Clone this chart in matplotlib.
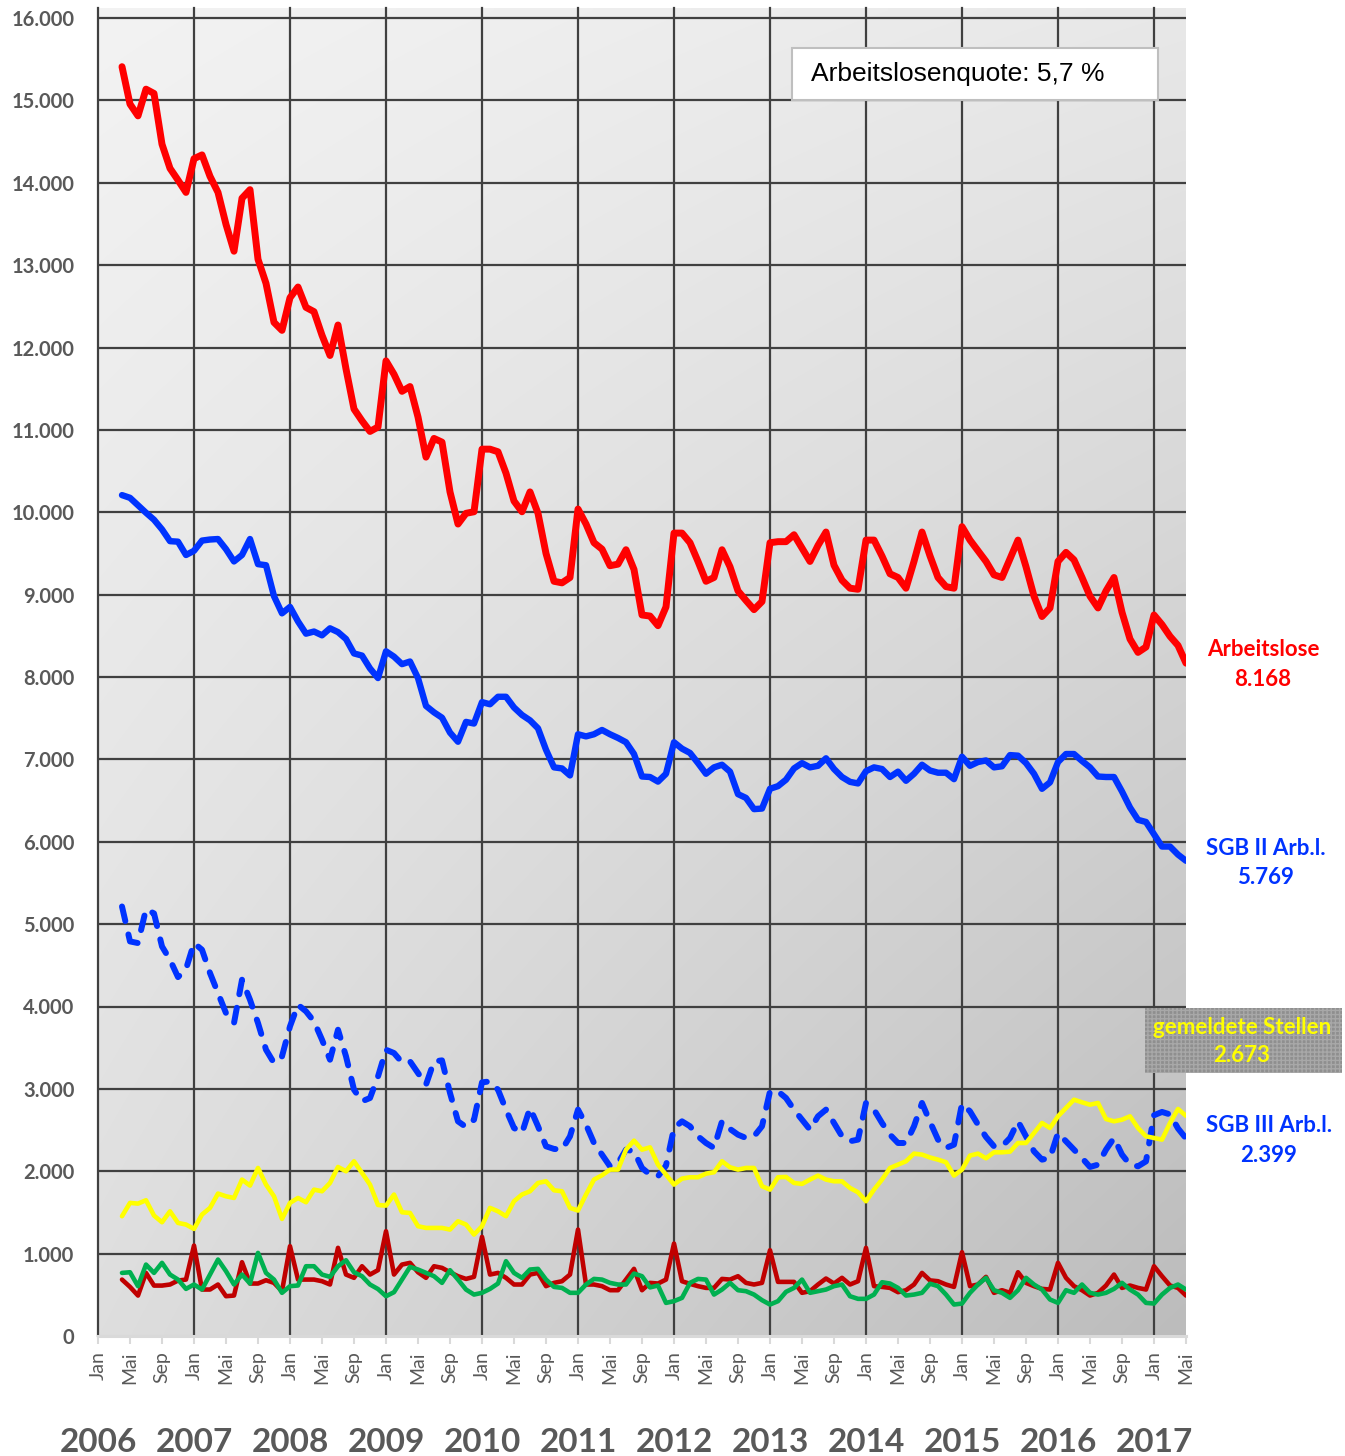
import numpy as np
import matplotlib
matplotlib.use("Agg")
import matplotlib.pyplot as plt
from matplotlib.ticker import FuncFormatter
from matplotlib.patches import Rectangle

# ---------------- data (monthly, first value = April 2006) ----------------
first_year, first_month = 2006, 4

arbeitslose = [15409, 14955, 14812, 15136, 15084, 14468, 14175, 14032, 13883,
               14292, 14338, 14078, 13883, 13494, 13169, 13812, 13916, 13071, 12779, 12305, 12208,
               12604, 12734, 12487, 12435, 12149, 11903, 12273, 11740, 11253, 11110, 10981, 11035,
               11838, 11675, 11468, 11526, 11156, 10669, 10896, 10851, 10247, 9857, 9987, 10006,
               10766, 10766, 10734, 10474, 10136, 10006, 10247, 9987, 9500, 9162, 9143, 9208,
               10039, 9857, 9630, 9552, 9351, 9370, 9545, 9305, 8753, 8740, 8623, 8851,
               9747, 9747, 9630, 9403, 9162, 9208, 9545, 9338, 9045, 8929, 8818, 8916,
               9630, 9643, 9643, 9727, 9565, 9403, 9597, 9760, 9357, 9175, 9078, 9065,
               9662, 9662, 9468, 9253, 9208, 9078, 9403, 9760, 9470, 9208, 9097, 9078,
               9825, 9662, 9532, 9403, 9240, 9208, 9435, 9662, 9338, 8981, 8734, 8838,
               9403, 9513, 9422, 9208, 8981, 8838, 9045, 9208, 8786, 8461, 8299, 8364,
               8753, 8636, 8494, 8383, 8168]

sgb2 = [10208, 10175, 10084, 9994, 9909, 9792, 9649, 9643, 9481,
        9532, 9656, 9669, 9675, 9552, 9403, 9481, 9675, 9370, 9357, 8981, 8773,
        8851, 8675, 8526, 8552, 8506, 8591, 8545, 8461, 8286, 8260, 8104, 7987,
        8312, 8247, 8156, 8188, 7987, 7649, 7571, 7506, 7325, 7214, 7455, 7435,
        7695, 7669, 7760, 7760, 7630, 7539, 7474, 7377, 7117, 6903, 6890, 6805,
        7305, 7279, 7305, 7357, 7305, 7260, 7208, 7065, 6792, 6786, 6730, 6825,
        7208, 7130, 7078, 6955, 6825, 6903, 6935, 6851, 6578, 6532, 6396, 6403,
        6643, 6675, 6753, 6890, 6955, 6903, 6922, 7013, 6883, 6786, 6727, 6708,
        6857, 6903, 6883, 6786, 6851, 6740, 6825, 6935, 6865, 6838, 6838, 6760,
        7032, 6922, 6968, 6987, 6903, 6916, 7052, 7045, 6955, 6825, 6643, 6721,
        6968, 7065, 7065, 6981, 6903, 6792, 6786, 6786, 6610, 6416, 6266, 6240,
        6091, 5942, 5942, 5844, 5769]

sgb3 = [5214, 4790, 4770, 5182, 5130, 4729, 4567, 4357, 4454,
        4770, 4689, 4406, 4163, 3920, 3799, 4325, 4082, 3799, 3476, 3314, 3395,
        3759, 4021, 3941, 3819, 3597, 3354, 3718, 3395, 2990, 2849, 2889, 3150,
        3475, 3435, 3322, 3334, 3192, 3051, 3334, 3346, 2950, 2606, 2537, 2626,
        3079, 3091, 2990, 2748, 2525, 2465, 2768, 2546, 2303, 2271, 2262, 2424,
        2748, 2566, 2343, 2202, 2060, 2101, 2262, 2242, 2040, 1959, 1939, 2068,
        2525, 2606, 2546, 2424, 2343, 2283, 2606, 2513, 2444, 2404, 2424, 2546,
        2970, 2970, 2889, 2748, 2626, 2505, 2667, 2748, 2586, 2424, 2364, 2384,
        2829, 2748, 2586, 2444, 2343, 2343, 2546, 2829, 2600, 2384, 2283, 2323,
        2820, 2727, 2566, 2416, 2303, 2303, 2404, 2606, 2424, 2242, 2141, 2161,
        2465, 2364, 2262, 2161, 2052, 2080, 2262, 2404, 2202, 2080, 2060, 2120,
        2680, 2720, 2690, 2520, 2399]

stellen = [1454, 1616, 1607, 1648, 1462, 1381, 1514, 1373, 1353,
           1300, 1474, 1555, 1729, 1696, 1676, 1899, 1826, 2040, 1838, 1696, 1421,
           1616, 1676, 1624, 1777, 1757, 1858, 2052, 2000, 2121, 1980, 1838, 1590,
           1583, 1717, 1502, 1494, 1333, 1312, 1312, 1312, 1292, 1393, 1353, 1231,
           1333, 1555, 1514, 1454, 1636, 1717, 1757, 1858, 1878, 1769, 1757, 1555,
           1523, 1717, 1899, 1951, 2020, 2020, 2262, 2372, 2262, 2290, 2080, 1959,
           1838, 1911, 1927, 1927, 1971, 1988, 2121, 2048, 2020, 2040, 2040, 1818,
           1777, 1927, 1931, 1858, 1846, 1899, 1947, 1899, 1878, 1878, 1797, 1745,
           1636, 1777, 1899, 2040, 2080, 2121, 2214, 2202, 2167, 2141, 2109, 1947,
           2020, 2190, 2214, 2157, 2230, 2230, 2238, 2343, 2343, 2465, 2586, 2525,
           2667, 2768, 2869, 2837, 2808, 2829, 2634, 2606, 2626, 2667, 2525, 2424,
           2404, 2384, 2586, 2756, 2673]

zugang = [685, 596, 491, 766, 612, 612, 625, 673, 685,
          1098, 564, 564, 625, 483, 491, 896, 637, 637, 677, 645, 544,
          1090, 685, 685, 685, 665, 625, 1070, 746, 706, 847, 746, 800,
          1272, 746, 867, 888, 774, 706, 847, 827, 774, 726, 693, 718,
          1203, 746, 766, 706, 625, 625, 746, 766, 605, 645, 665, 746,
          1292, 625, 625, 605, 556, 556, 685, 815, 556, 645, 637, 685,
          1122, 665, 633, 605, 584, 584, 693, 685, 726, 645, 625, 645,
          1041, 657, 657, 657, 524, 544, 625, 698, 637, 706, 625, 665,
          1070, 605, 596, 584, 532, 556, 625, 766, 675, 665, 625, 596,
          1017, 605, 625, 718, 524, 556, 524, 774, 645, 605, 572, 564,
          888, 706, 605, 556, 491, 524, 613, 746, 584, 613, 584, 564,
          847, 726, 613, 584, 491]

abgang = [766, 774, 605, 867, 766, 888, 746, 685, 572,
          625, 564, 746, 928, 787, 625, 746, 637, 1009, 766, 685, 524,
          605, 613, 847, 847, 746, 718, 847, 920, 774, 726, 625, 570,
          483, 532, 685, 839, 807, 766, 726, 645, 799, 685, 564, 503,
          524, 572, 637, 908, 766, 706, 807, 815, 685, 596, 584, 524,
          524, 625, 693, 685, 645, 625, 625, 758, 726, 590, 613, 402,
          423, 463, 645, 693, 685, 503, 564, 645, 556, 544, 503, 435,
          382, 423, 536, 584, 685, 524, 544, 564, 605, 625, 483, 451,
          451, 503, 653, 637, 584, 491, 503, 524, 635, 605, 503, 382,
          394, 524, 625, 706, 556, 524, 463, 556, 706, 625, 564, 443,
          402, 556, 524, 625, 524, 503, 524, 572, 645, 564, 503, 402,
          394, 503, 584, 625, 564]

month_names = ["Jan", "Mai", "Sep"]
years = list(range(2006, 2018))
y_ticks = list(range(0, 16001, 1000))
quote_text = "Arbeitslosenquote: 5,7 %"

# ---------------- figure ----------------
W, H = 1345, 1456
fig = plt.figure(figsize=(W / 100, H / 100), dpi=100)
fig.patch.set_facecolor("white")

def fx(x):
    return x / W

def fy(y):
    return 1 - y / H

ax = fig.add_axes([fx(98), fy(1336), (1186 - 98) / W, (1336 - 8) / H])

n = len(arbeitslose)
x0 = (first_year - 2006) * 12 + first_month - 1
x = np.arange(x0, x0 + n)
last_idx = (2017 - 2006) * 12 + 4  # Mai 2017
ytop = 16000 * 1328 / 1318

# gradient background
u = np.linspace(0, 1, 300)
v = np.linspace(1, 0, 300)
U, V = np.meshgrid(u, v)
TL, TR, BL, BR = 243, 232, 222, 188
val = TL * (1 - U) * V + TR * U * V + BL * (1 - U) * (1 - V) + BR * U * (1 - V)
img = np.dstack([val / 255.0] * 3)
ax.imshow(img, extent=(0, 1, 0, 1), transform=ax.transAxes, aspect="auto",
          zorder=0, interpolation="bilinear")

grid_c = "#404040"
for t in y_ticks[1:]:
    ax.axhline(t, color=grid_c, lw=1.6, zorder=1)
for k in range(len(years)):
    ax.axvline(12 * k, color=grid_c, lw=1.6, zorder=1, clip_on=False)

lw_kw = dict(solid_joinstyle="round", solid_capstyle="round")
ax.plot(x, zugang, color="#c00000", lw=3.3, zorder=3, **lw_kw)
ax.plot(x, abgang, color="#00b050", lw=3.3, zorder=4, **lw_kw)
ax.plot(x, sgb3, color="#0033ff", lw=4.3, zorder=4.5, linestyle=(0, (2.5, 2.3)),
        dash_capstyle="round", dash_joinstyle="round")
ax.plot(x, stellen, color="#ffff00", lw=3.3, zorder=5, **lw_kw)
ax.plot(x, sgb2, color="#0033ff", lw=4.6, zorder=6, **lw_kw)
ax.plot(x, arbeitslose, color="#ff0000", lw=5.0, zorder=7, **lw_kw)

ax.set_xlim(0, last_idx)
ax.set_ylim(0, ytop)

# axes styling
for s in ["top", "right", "left"]:
    ax.spines[s].set_visible(False)
ax.spines["bottom"].set_color("#d9d9d9")
ax.spines["bottom"].set_linewidth(2.2)
ax.spines["bottom"].set_zorder(2)

ax.set_yticks(y_ticks)
ax.yaxis.set_major_formatter(FuncFormatter(lambda v_, p: f"{int(v_):,}".replace(",", ".")))
ax.tick_params(axis="y", length=0, pad=17, labelsize=14.5, labelcolor="#595959")
for lab in ax.get_yticklabels():
    lab.set_fontfamily(["Lato", "DejaVu Sans"])
    lab.set_fontweight("bold")

xt = list(range(0, last_idx + 1, 4))
ax.set_xticks(xt)
ax.set_xticklabels([month_names[(t % 12) // 4] for t in xt], rotation=90,
                   fontsize=14, color="#595959", family=["Lato", "DejaVu Sans"])
ax.tick_params(axis="x", length=6, width=1.5, color="#d9d9d9", direction="out", pad=5)

# year labels
for k, yr in enumerate(years):
    ax.text(12 * k, -0.0805, str(yr), transform=ax.get_xaxis_transform(),
            ha="center", va="center", fontsize=24, fontweight="bold", color="#595959",
            family=["Lato", "DejaVu Sans"], clip_on=False)

# quote box
fig.patches.append(Rectangle((fx(792), fy(100)), (1158 - 792) / W, (100 - 48) / H,
                             transform=fig.transFigure, facecolor="white",
                             edgecolor="#bfbfbf", lw=1.5, zorder=8))
fig.text(fx(811), fy(74), quote_text, ha="left", va="center", fontsize=19,
         family=["Liberation Sans", "DejaVu Sans"], color="black", zorder=9)

# right side labels
lab_kw = dict(ha="center", va="center", fontsize=16, fontweight="bold",
              family=["Lato", "DejaVu Sans"], zorder=9)
fig.text(fx(1263), fy(650), "Arbeitslose", color="#ff0000", **lab_kw)
fig.text(fx(1263), fy(680), "8.168", color="#ff0000", **lab_kw)
fig.text(fx(1266), fy(848), "SGB II Arb.l.", color="#0033ff", **lab_kw)
fig.text(fx(1266), fy(878), "5.769", color="#0033ff", **lab_kw)

fig.patches.append(Rectangle((fx(1145), fy(1073)), (1342 - 1145) / W, (1073 - 1008) / H,
                             transform=fig.transFigure, facecolor="#8f8f8f",
                             edgecolor="#a8a8a8", hatch="++++", lw=0, zorder=8))
fig.text(fx(1242), fy(1027), "gemeldete Stellen", color="#ffff00", **lab_kw)
fig.text(fx(1242), fy(1056), "2.673", color="#ffff00", **lab_kw)
fig.text(fx(1269), fy(1126), "SGB III Arb.l.", color="#0033ff", **lab_kw)
fig.text(fx(1269), fy(1155), "2.399", color="#0033ff", **lab_kw)

fig.savefig("out.png", dpi=100)
